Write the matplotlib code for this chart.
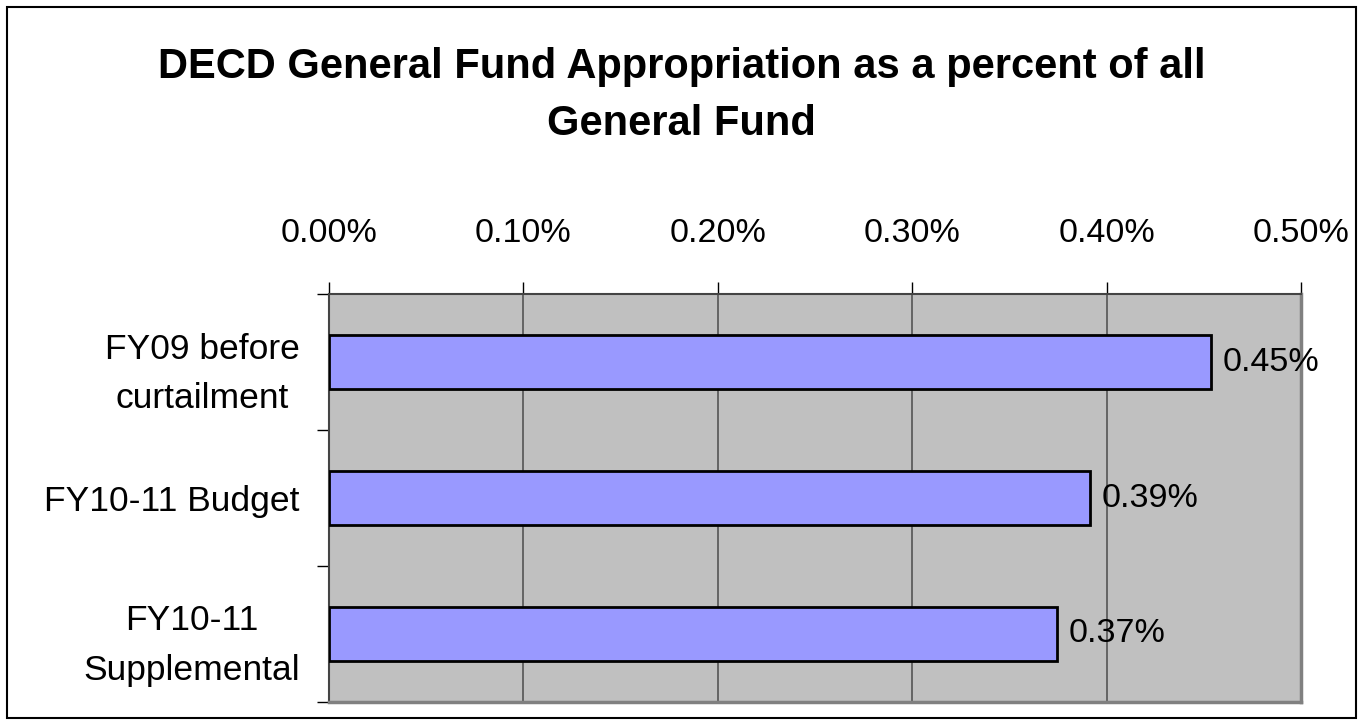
import matplotlib.pyplot as plt
from matplotlib.patches import Rectangle

plt.rcParams['font.family'] = ['Liberation Sans', 'DejaVu Sans']

categories = ['FY09 before\ncurtailment', 'FY10-11 Budget', 'FY10-11\nSupplemental']
values = [0.4535, 0.3915, 0.3745]
value_labels = ['0.45%', '0.39%', '0.37%']
ticks = [0.0, 0.1, 0.2, 0.3, 0.4, 0.5]

fig = plt.figure(figsize=(13.63, 7.25), dpi=100)
ax = fig.add_axes([329 / 1363, 1 - 702 / 725, 972 / 1363, 408 / 725])

ypos = list(range(len(categories)))
ax.barh(ypos, values, height=0.39, color='#9999ff', edgecolor='black', linewidth=2, zorder=3)
for y, v, lab in zip(ypos, values, value_labels):
    ax.text(v + 0.006, y, lab, va='center', ha='left', fontsize=24.5, zorder=4)

ax.set_xlim(0, 0.5)
ax.set_ylim(2.5, -0.5)
ax.set_facecolor('#c0c0c0')
ax.xaxis.tick_top()
ax.set_xticks(ticks)
ax.set_xticklabels(['%.2f%%' % t for t in ticks], fontsize=24.5)
ax.tick_params(axis='x', length=8.6, width=1, color='black', pad=24)
ax.grid(axis='x', color='#555555', linewidth=1.2, zorder=1)

ax.set_yticks([-0.5, 0.5, 1.5, 2.5], minor=False)
ax.set_yticklabels([])
ax.set_yticks(ypos, minor=True)
ax.set_yticklabels(categories, minor=True, fontsize=25.5, multialignment='center',
                   linespacing=1.65)
ax.tick_params(axis='y', which='minor', length=0, pad=21)
ax.tick_params(axis='y', which='major', length=8.6, width=1, color='black')

for s in ['top', 'left']:
    ax.spines[s].set_color('#444444')
    ax.spines[s].set_linewidth(1.5)
for s in ['bottom', 'right']:
    ax.spines[s].set_color('#808080')
    ax.spines[s].set_linewidth(2.5)

fig.text(0.5, 1 - 78 / 725, 'DECD General Fund Appropriation as a percent of all',
         ha='center', va='baseline', fontsize=30, fontweight='bold')
fig.text(0.5, 1 - 135 / 725, 'General Fund',
         ha='center', va='baseline', fontsize=30, fontweight='bold')

fig.add_artist(Rectangle((7 / 1363, 7 / 725), 1 - 14 / 1363, 1 - 14 / 725,
                         transform=fig.transFigure, fill=False, edgecolor='black', linewidth=1.5))

fig.savefig('out.png', dpi=100)
